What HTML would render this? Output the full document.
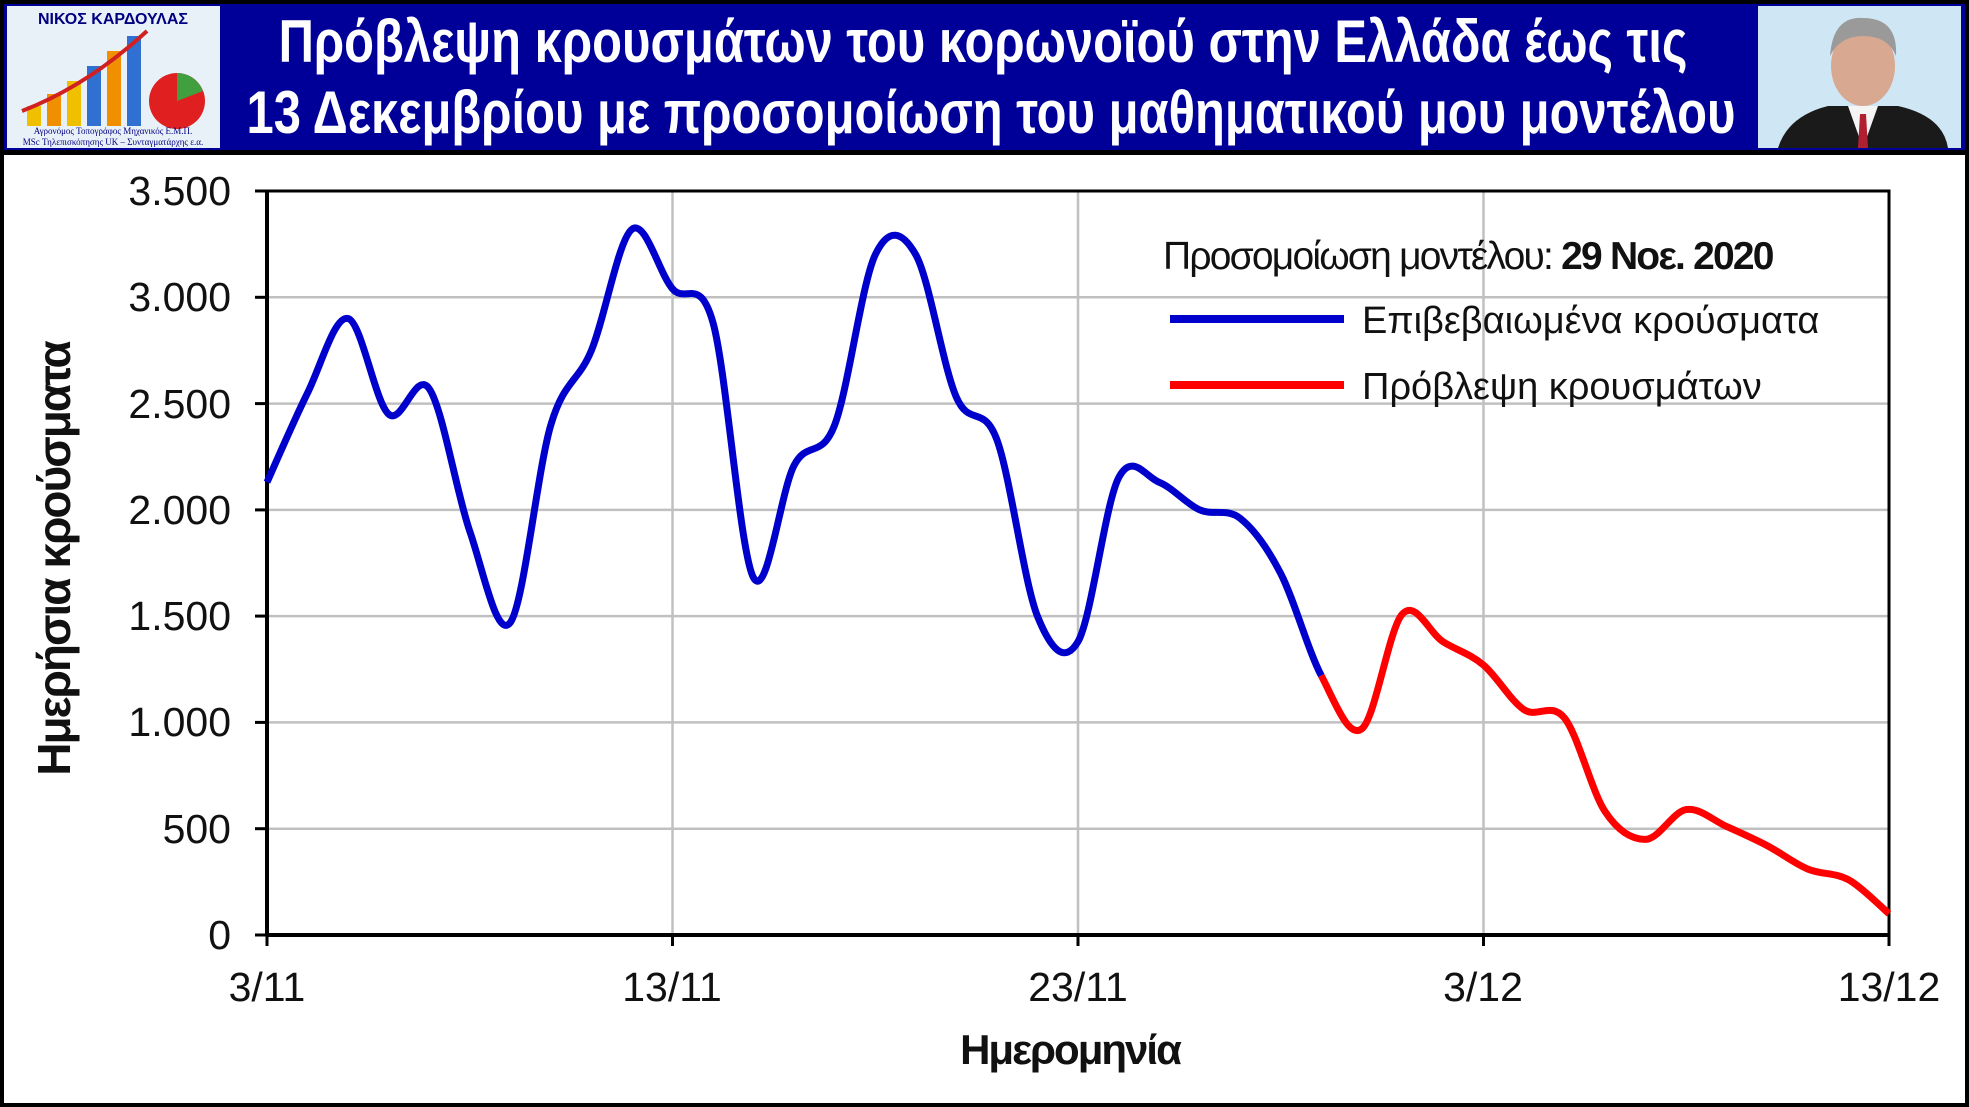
<!DOCTYPE html>
<html><head><meta charset="utf-8"><style>
html,body{margin:0;padding:0;background:#fff}
body{width:1969px;height:1107px;position:relative;overflow:hidden;font-family:"Liberation Sans",sans-serif}
.frame{position:absolute;left:0;top:0;width:1961px;height:1099px;border:4px solid #000}
.band{position:absolute;left:4px;top:4px;width:1961px;height:146px;background:#000099;border-bottom:5px solid #000}
.title{position:absolute;color:#fff;font-weight:bold;font-size:60px;white-space:nowrap;line-height:60px;transform:translateX(-50%) scaleX(0.815)}
</style></head><body>
<div class="frame"></div>
<div class="band"></div>
<div class="title" style="top:12px;left:983px">Πρόβλεψη κρουσμάτων του κορωνοϊού στην Ελλάδα έως τις</div>
<div class="title" style="top:83px;left:991px">13 Δεκεμβρίου με προσομοίωση του μαθηματικού μου μοντέλου</div>
<svg style="position:absolute;left:7px;top:6px" width="213" height="142">
<rect width="213" height="142" fill="#e8f0f8"/>
<text x="106" y="18" font-size="16" font-weight="bold" fill="#000080" text-anchor="middle" font-family="Liberation Sans">ΝΙΚΟΣ ΚΑΡΔΟΥΛΑΣ</text>
<rect x="20" y="100" width="14" height="20" fill="#f0c000"/><rect x="40" y="88" width="14" height="32" fill="#f09000"/>
<rect x="60" y="75" width="14" height="45" fill="#f0c000"/><rect x="80" y="60" width="14" height="60" fill="#3070d0"/>
<rect x="100" y="45" width="14" height="75" fill="#f09000"/><rect x="120" y="30" width="14" height="90" fill="#3070d0"/>
<circle cx="170" cy="95" r="28" fill="#e02020"/><path d="M170 95 L170 67 A28 28 0 0 1 196 85Z" fill="#40a040"/>
<path d="M15 105 Q80 80 140 25" stroke="#d02020" stroke-width="4" fill="none"/>
<text x="106" y="128" font-size="9" fill="#000080" text-anchor="middle" font-family="Liberation Serif">Αγρονόμος Τοπογράφος Μηχανικός Ε.Μ.Π.</text>
<text x="106" y="139" font-size="9" fill="#000080" text-anchor="middle" font-family="Liberation Serif">MSc Τηλεπισκόπησης UK – Συνταγματάρχης ε.α.</text>
</svg>
<svg style="position:absolute;left:1758px;top:6px" width="203" height="142">
<rect width="203" height="142" fill="#cfe6f5"/>
<path d="M20 142 Q30 110 70 100 L140 100 Q185 110 190 142Z" fill="#1a1a1a"/>
<path d="M90 100 L105 142 L120 100Z" fill="#f4f4f4"/><path d="M102 108 L108 108 L110 142 L100 142Z" fill="#b02030"/>
<ellipse cx="105" cy="60" rx="32" ry="40" fill="#d8a890"/>
<path d="M72 50 Q75 10 105 12 Q140 12 138 50 Q130 30 105 30 Q82 30 72 50Z" fill="#9a9a9a"/>
</svg>
<svg id="c" style="position:absolute;left:0;top:0" width="1969" height="1107" font-family="Liberation Sans">
<g stroke="#c0c0c0" stroke-width="2.5">
<line x1="267" x2="1889" y1="297.3" y2="297.3"/><line x1="267" x2="1889" y1="403.6" y2="403.6"/>
<line x1="267" x2="1889" y1="509.9" y2="509.9"/><line x1="267" x2="1889" y1="616.1" y2="616.1"/>
<line x1="267" x2="1889" y1="722.4" y2="722.4"/><line x1="267" x2="1889" y1="828.7" y2="828.7"/>
<line x1="672.5" x2="672.5" y1="191" y2="935"/><line x1="1078" x2="1078" y1="191" y2="935"/><line x1="1483.5" x2="1483.5" y1="191" y2="935"/>
</g>
<rect x="267" y="191" width="1622" height="744" fill="none" stroke="#000" stroke-width="3"/>
<line x1="267" x2="267" y1="191" y2="935" stroke="#000" stroke-width="4"/>
<line x1="267" x2="1889" y1="935" y2="935" stroke="#000" stroke-width="4"/>
<g stroke="#000" stroke-width="3">
<line x1="255" x2="267" y1="191" y2="191"/><line x1="255" x2="267" y1="297.3" y2="297.3"/><line x1="255" x2="267" y1="403.6" y2="403.6"/><line x1="255" x2="267" y1="509.9" y2="509.9"/><line x1="255" x2="267" y1="616.1" y2="616.1"/><line x1="255" x2="267" y1="722.4" y2="722.4"/><line x1="255" x2="267" y1="828.7" y2="828.7"/><line x1="255" x2="267" y1="935" y2="935"/>
<line x1="267" x2="267" y1="935" y2="946"/><line x1="672.5" x2="672.5" y1="935" y2="946"/><line x1="1078" x2="1078" y1="935" y2="946"/><line x1="1483.5" x2="1483.5" y1="935" y2="946"/><line x1="1889" x2="1889" y1="935" y2="946"/>
</g>
<g font-size="41" text-anchor="end" fill="#111">
<text x="231" y="205">3.500</text><text x="231" y="311">3.000</text><text x="231" y="418">2.500</text><text x="231" y="524">2.000</text><text x="231" y="630">1.500</text><text x="231" y="736">1.000</text><text x="231" y="843">500</text><text x="231" y="949">0</text>
</g>
<g font-size="41" text-anchor="middle" fill="#111">
<text x="267" y="1001">3/11</text><text x="672" y="1001">13/11</text><text x="1078" y="1001">23/11</text><text x="1483" y="1001">3/12</text><text x="1889" y="1001">13/12</text>
</g>
<text x="1070" y="1064" font-size="42" font-weight="bold" text-anchor="middle" letter-spacing="-2" fill="#111">Ημερομηνία</text>
<text transform="translate(70,559) rotate(-90)" font-size="46" font-weight="bold" text-anchor="middle" letter-spacing="-2" fill="#111">Ημερήσια  κρούσματα</text>
<text x="1163" y="269" font-size="39" letter-spacing="-1.8" fill="#111">Προσομοίωση μοντέλου: <tspan font-weight="bold">29 Νοε. 2020</tspan></text>
<line x1="1170" x2="1344" y1="319" y2="319" stroke="#0000cc" stroke-width="8"/>
<text x="1362" y="333" font-size="38" fill="#111">Επιβεβαιωμένα κρούσματα</text>
<line x1="1170" x2="1344" y1="385" y2="385" stroke="#ff0000" stroke-width="8"/>
<text x="1362" y="399" font-size="38" fill="#111">Πρόβλεψη κρουσμάτων</text>
<path id="pb" fill="none" stroke="#0000cc" stroke-width="7" stroke-linejoin="round"/>
<path id="pr" fill="none" stroke="#ff0000" stroke-width="7" stroke-linejoin="round"/>
</svg>
<script>
var v=[2130,2550,2900,2450,2570,1900,1470,2400,2750,3320,3040,2880,1680,2210,2400,3200,3200,2530,2330,1500,1380,2150,2130,2000,1960,1700,1220,970,1510,1380,1270,1060,1020,580,450,590,510,420,310,260,100];
var P=v.map(function(y,i){return [267+i*40.55,935-y*744/3500];});
function seg(a,b){var d="M"+P[a][0]+","+P[a][1];for(var i=a;i<b;i++){var p0=P[Math.max(i-1,0)],p1=P[i],p2=P[i+1],p3=P[Math.min(i+2,P.length-1)];
d+=" C"+(p1[0]+(p2[0]-p0[0])/6)+","+(p1[1]+(p2[1]-p0[1])/6)+" "+(p2[0]-(p3[0]-p1[0])/6)+","+(p2[1]-(p3[1]-p1[1])/6)+" "+p2[0]+","+p2[1];}return d;}
document.getElementById("pb").setAttribute("d",seg(0,26));
document.getElementById("pr").setAttribute("d",seg(26,40));
</script>
</body></html>
